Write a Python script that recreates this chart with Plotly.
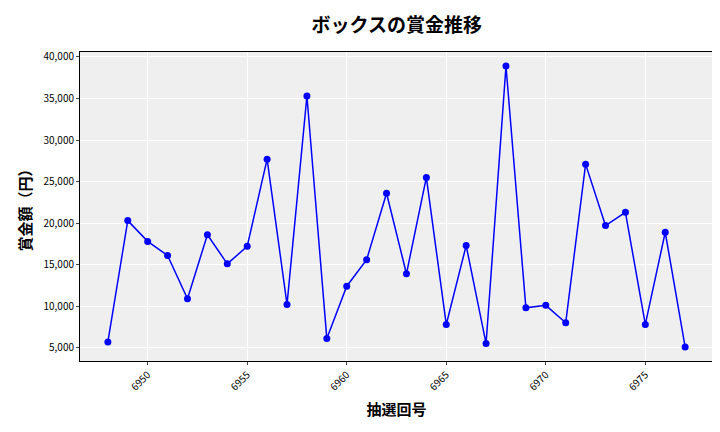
import plotly.graph_objects as go

draws = list(range(6948, 6978))
prizes = [5700, 20300, 17800, 16100, 10900, 18600, 15100, 17200, 27700, 10200,
          35300, 6100, 12400, 15600, 23600, 13900, 25500, 7800, 17300, 5500,
          38900, 9800, 10100, 8000, 27100, 19700, 21300, 7800, 18900, 5100]
x_ticks = [6950, 6955, 6960, 6965, 6970, 6975]
y_ticks = [5000, 10000, 15000, 20000, 25000, 30000, 35000, 40000]

font = "Noto Sans CJK JP"
fig = go.Figure(go.Scatter(x=draws, y=prizes, mode="lines+markers",
                           line=dict(color="blue", width=1.5),
                           marker=dict(color="blue", size=7)))
fig.update_layout(
    width=720, height=432,
    margin=dict(l=72, r=15, t=44, b=79),
    paper_bgcolor="white", plot_bgcolor="#efefef",
    font=dict(family=font, color="black"),
    title=dict(text="<b>ボックスの賞金推移</b>", x=0.54, xanchor="center",
               y=0.975, yanchor="top", font=dict(size=19, family=font)),
    showlegend=False,
)
fig.update_xaxes(tickvals=x_ticks, ticktext=[str(v) for v in x_ticks], tickangle=-45,
                 tickfont=dict(size=10), gridcolor="white", zeroline=False,
                 range=[6946.6, 6978.4], showline=True, linecolor="black", mirror=True,
                 ticks="outside", ticklen=3,
                 title=dict(text="<b>抽選回号</b>", font=dict(size=15), standoff=12))
fig.update_yaxes(tickvals=y_ticks, tickformat=",", tickfont=dict(size=10),
                 gridcolor="white", zeroline=False, range=[3400, 40600],
                 showline=True, linecolor="black", mirror=True, ticks="outside", ticklen=3,
                 title=dict(text="<b>賞金額（円）</b>", font=dict(size=15), standoff=8))
fig.write_html("out.html")
